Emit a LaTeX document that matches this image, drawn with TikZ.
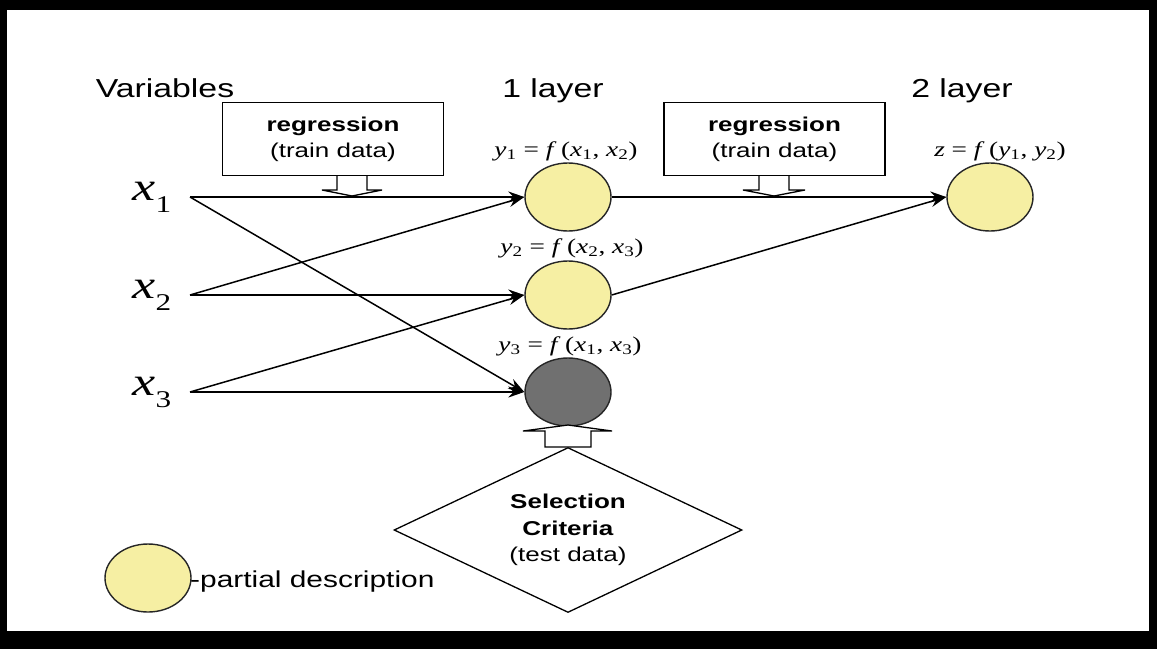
\documentclass[tikz,border=0pt]{standalone}
\usepackage{fontspec}
\setmainfont{Liberation Sans}
\newfontfamily\tms{Liberation Serif}
\usepackage{graphicx}
\usetikzlibrary{shapes.geometric,arrows.meta,calc}
\definecolor{pale}{RGB}{246,239,163}
\definecolor{darkc}{RGB}{112,112,112}
\newcommand\hs[1]{\scalebox{1.3}[1]{#1}}
\newcommand\fsz[1]{\fontsize{#1}{#1}\selectfont}
\newcommand\xlab[1]{\hs{\tms\fsz{40}\textit{x}\raisebox{-12pt}{\fsz{24}#1}}}
\tikzset{
 lay/.style={ellipse, draw=black!85, line width=1.4pt, minimum width=86pt, minimum height=68pt, fill=pale, inner sep=0},
 lbl/.style={inner sep=0, anchor=base},
 flbl/.style={inner sep=0},
 conn/.style={line width=1.5pt, -{Stealth[length=16pt,width=11pt]}},
 regbox/.style={draw, line width=1.3pt, inner sep=0, minimum width=221pt, minimum height=73pt},
 hollow/.style={draw, line width=1.3pt, fill=white, line join=miter},
}
\begin{document}
\begin{tikzpicture}[x=1pt,y=-1pt]
\useasboundingbox (0,0) rectangle (1157,649);
\fill[black] (0,0) rectangle (1157,649);
\fill[white] (7,10) rectangle (1149,631);

% headings
\node[lbl] (hv) at (165,97) {\hs{\fsz{26}Variables}};
\node[lbl] (h1) at (553,97) {\hs{\fsz{26}1 layer}};
\node[lbl] (h2) at (962,97) {\hs{\fsz{26}2 layer}};

% regression boxes
\node[regbox] (b1) at (333,139) {\hs{\fontsize{20}{26}\selectfont\begin{tabular}{@{}c@{}}\textbf{regression}\\(train data)\end{tabular}}};
\node[regbox] (b2) at (774.5,139) {\hs{\fontsize{20}{26}\selectfont\begin{tabular}{@{}c@{}}\textbf{regression}\\(train data)\end{tabular}}};

% variables
\node[lbl] (x1) at (152,200) {\xlab{1}};
\node[lbl] (x2) at (152,298) {\xlab{2}};
\node[lbl] (x3) at (152,395) {\xlab{3}};
\coordinate (s1) at (190,197);
\coordinate (s2) at (190,295);
\coordinate (s3) at (190,392);

% layer nodes
\node[lay] (y1) at (568,197) {};
\node[lay] (y2) at (568,295) {};
\node[lay, fill=darkc] (y3) at (568,392) {};
\node[lay] (z) at (990,197) {};

% formulas
\node[flbl] (f1) at (566,151) {\hs{\tms\fsz{21}\textit{y}\textsubscript{1} = \textit{f}\,(\textit{x}\textsubscript{1}, \textit{x}\textsubscript{2})}};
\node[flbl] (f2) at (572,248) {\hs{\tms\fsz{21}\textit{y}\textsubscript{2} = \textit{f}\,(\textit{x}\textsubscript{2}, \textit{x}\textsubscript{3})}};
\node[flbl] (f3) at (570,346) {\hs{\tms\fsz{21}\textit{y}\textsubscript{3} = \textit{f}\,(\textit{x}\textsubscript{1}, \textit{x}\textsubscript{3})}};
\node[flbl] (fz) at (1000,151) {\hs{\tms\fsz{21}\textit{z} = \textit{f}\,(\textit{y}\textsubscript{1}, \textit{y}\textsubscript{2})}};

% connectors
\draw[conn] (s1) -- (y1.west);
\draw[conn] (s1) -- (y3.west);
\draw[conn] (s2) -- (y1.west);
\draw[conn] (s2) -- (y2.west);
\draw[conn] (s3) -- (y2.west);
\draw[conn] (s3) -- (y3.west);
\draw[conn] (y1.east) -- (z.west);
\draw[conn] (y2.east) -- (z.west);

% selection criteria
\node[diamond, shape aspect=2.1, draw, line width=1.3pt, inner sep=0, minimum width=348pt, minimum height=165pt] (sel) at (568,530)
  {\hs{\fontsize{20}{26.5}\selectfont\begin{tabular}{@{}c@{}}\textbf{Selection}\\\textbf{Criteria}\\(test data)\end{tabular}}};

% hollow arrows
\draw[hollow] (337,176) -- (337,190) -- (322,190) -- (352,196) -- (382,190) -- (367,190) -- (367,176);
\draw[hollow] (759,176) -- (759,190) -- (743,190) -- (774,196) -- (805,190) -- (789,190) -- (789,176);
\draw[hollow] (545,447) -- (545,431) -- (523,431) -- (568,425) -- (612,431) -- (591,431) -- (591,447) -- cycle;

% legend
\node[lay] (leg) at (148,578) {};
\node[inner sep=0, anchor=base west] (legt) at (190,587) {\hs{\fsz{23}-partial description}};
\end{tikzpicture}
\end{document}
